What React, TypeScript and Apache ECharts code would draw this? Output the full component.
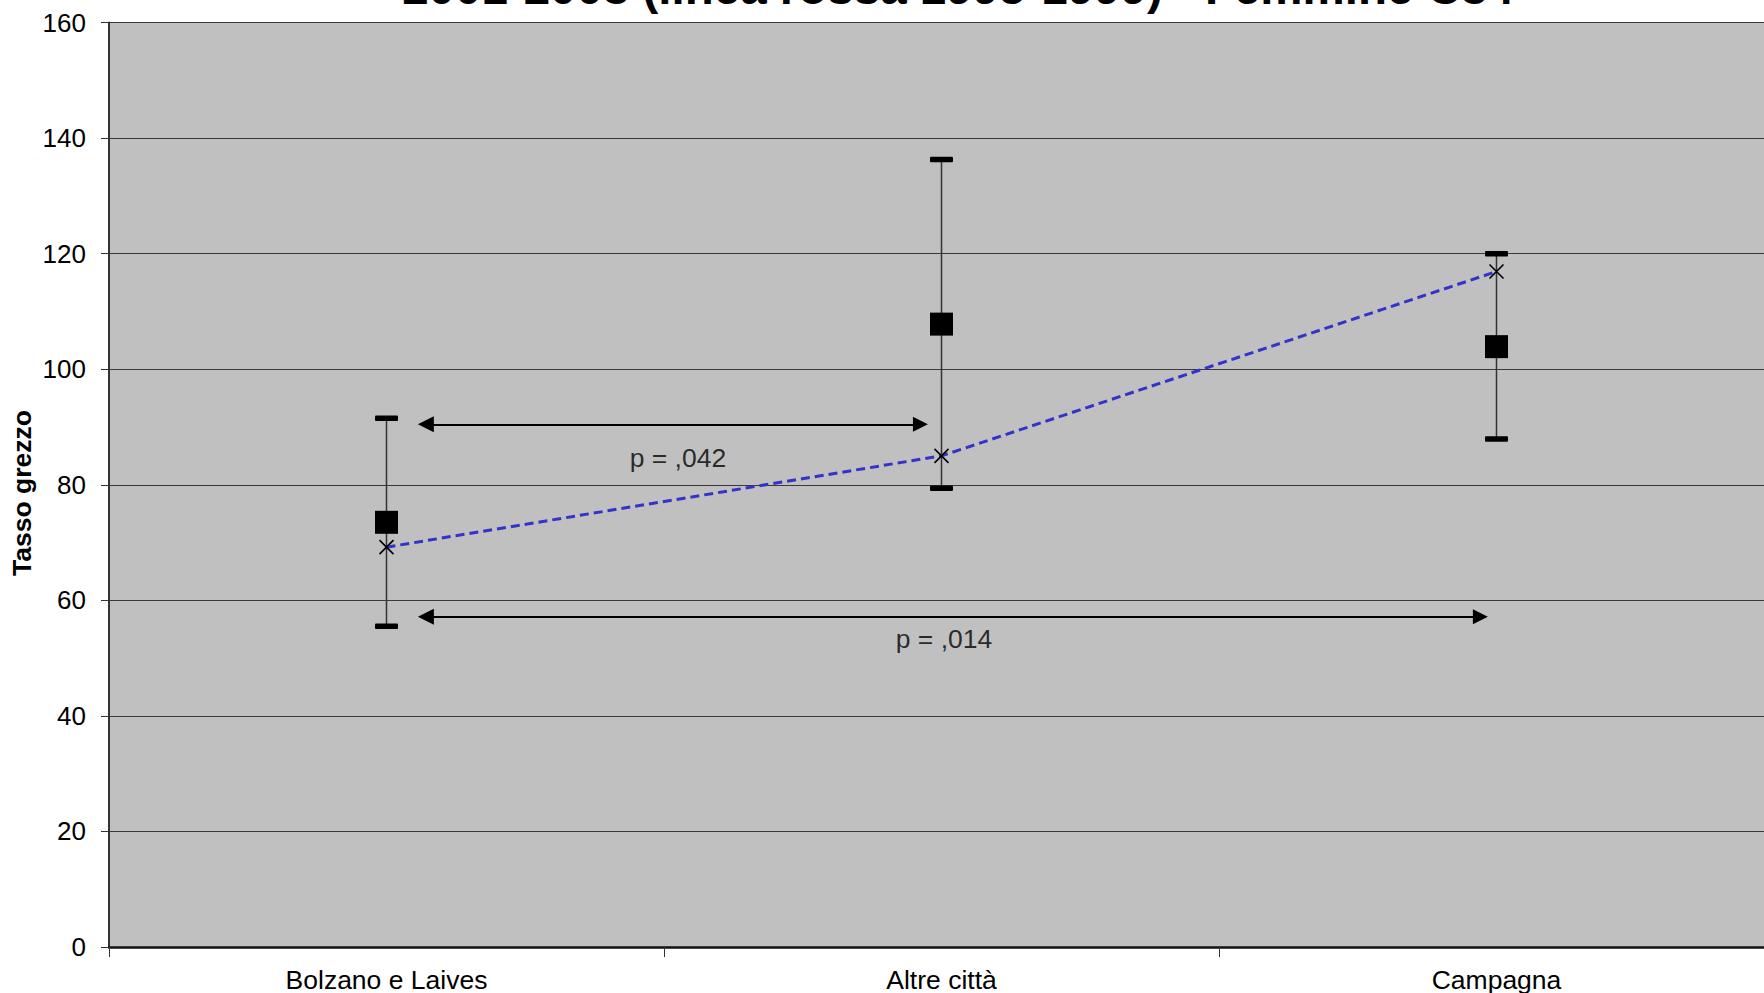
import React, { useEffect, useRef } from "react";
import * as echarts from "echarts";

const titleText = "2001-2003 (linea rossa 1995-1999) - Femmine C34";
const yAxisName = "Tasso grezzo";
const categories = ["Bolzano e Laives", "Altre città", "Campagna"];
const rateValues = [73.5, 107.8, 103.9];
const ciLow = [55.5, 79.4, 87.9];
const ciHigh = [91.5, 136.3, 120.0];
const refValues = [69.2, 85.0, 116.9];
const yTicks = { min: 0, max: 160, interval: 20 };
// comparison arrows: [xFrom, xTo, y] in category-index units
const arrowA = [0.071, 0.962, 90.46];
const arrowB = [0.071, 1.971, 57.16];
const pLabels = ["p = ,042", "p = ,014"];
const pLabelPos = [
  [0.525, 84.65],
  [1.0045, 53.3],
];

export default function App() {
  const ref = useRef<HTMLDivElement>(null);
  useEffect(() => {
    if (!ref.current) return;
    const chart = echarts.init(ref.current, null, { renderer: "svg" });
    const font = "Arial, 'Liberation Sans', sans-serif";
    chart.setOption({
      animation: false,
      backgroundColor: "#ffffff",
      textStyle: { fontFamily: font },
      graphic: [
        {
          type: "text",
          x: 958,
          y: -37,
          style: {
            text: titleText,
            font: `bold 47.5px ${font}`,
            fill: "#000",
            align: "center",
            verticalAlign: "top",
          },
        },
        {
          type: "text",
          x: 22,
          y: 493,
          rotation: Math.PI / 2,
          style: {
            text: yAxisName,
            font: `bold 26.5px ${font}`,
            fill: "#000",
            align: "center",
            verticalAlign: "middle",
          },
        },
      ],
      grid: {
        left: 109,
        top: 22.5,
        width: 1665,
        height: 924.5,
        show: true,
        backgroundColor: "#c0c0c0",
        borderWidth: 0,
      },
      xAxis: [
        {
          type: "category",
          data: categories,
          boundaryGap: true,
          axisLine: { lineStyle: { color: "#111", width: 2.5 } },
          axisTick: { show: true, length: 10, lineStyle: { color: "#333", width: 1 } },
          axisLabel: { fontSize: 26.5, color: "#000", margin: 19, fontFamily: font },
          splitLine: { show: false },
        },
        {
          type: "value",
          min: -0.5,
          max: 2.5,
          show: false,
          splitLine: { show: false },
        },
      ],
      yAxis: {
        type: "value",
        min: yTicks.min,
        max: yTicks.max,
        interval: yTicks.interval,
        axisLine: { show: true, onZero: false, lineStyle: { color: "#333", width: 2 } },
        axisTick: { show: true, length: 8, lineStyle: { color: "#333", width: 1 } },
        axisLabel: { fontSize: 26, color: "#000", margin: 23, fontFamily: font },
        splitLine: { show: true, lineStyle: { color: "#3a3a3a", width: 1 } },
      },
      series: [
        {
          type: "custom",
          xAxisIndex: 0,
          data: categories.map((_, i) => [i, ciLow[i], ciHigh[i]]),
          renderItem: (params: any, api: any) => {
            const lo = api.coord([api.value(0), api.value(1)]);
            const hi = api.coord([api.value(0), api.value(2)]);
            const cw = 23;
            const ch = 5.5;
            return {
              type: "group",
              children: [
                {
                  type: "line",
                  shape: { x1: hi[0], y1: hi[1], x2: lo[0], y2: lo[1] },
                  style: { stroke: "#333", lineWidth: 1.5 },
                },
                {
                  type: "rect",
                  shape: { x: hi[0] - cw / 2, y: hi[1] - ch / 2, width: cw, height: ch, r: 1 },
                  style: { fill: "#000" },
                },
                {
                  type: "rect",
                  shape: { x: lo[0] - cw / 2, y: lo[1] - ch / 2, width: cw, height: ch, r: 1 },
                  style: { fill: "#000" },
                },
              ],
            };
          },
          z: 2,
        },
        {
          type: "scatter",
          xAxisIndex: 0,
          data: rateValues,
          symbol: "rect",
          symbolSize: 23,
          itemStyle: { color: "#000", opacity: 1 },
          z: 3,
        },
        {
          type: "line",
          xAxisIndex: 0,
          data: refValues,
          symbol: "path://M0,0L10,10M10,0L0,10",
          symbolSize: 14,
          showSymbol: true,
          itemStyle: { color: "none", borderColor: "#000", borderWidth: 1.6, opacity: 1 },
          lineStyle: { color: "#3333cc", width: 3, type: [9, 5] },
          z: 4,
        },
        {
          type: "lines",
          coordinateSystem: "cartesian2d",
          xAxisIndex: 1,
          symbol: ["triangle", "triangle"],
          symbolSize: [16, 15],
          lineStyle: { color: "#000", width: 2, opacity: 1 },
          itemStyle: { color: "#000" },
          data: [
            { coords: [[arrowA[0], arrowA[2]], [arrowA[1], arrowA[2]]] },
            { coords: [[arrowB[0], arrowB[2]], [arrowB[1], arrowB[2]]] },
          ],
          z: 5,
        },
        {
          type: "scatter",
          xAxisIndex: 1,
          symbolSize: 0,
          data: pLabels.map((t, i) => ({ value: pLabelPos[i], name: t })),
          label: {
            show: true,
            position: "inside",
            formatter: (p: any) => p.name,
            fontSize: 26.5,
            color: "#000",
            fontFamily: font,
          },
          z: 6,
        },
      ],
    });
    return () => chart.dispose();
  }, []);
  return (
    <div
      ref={ref}
      style={{ position: "fixed", left: 0, top: 0, width: 1790, height: 993 }}
    />
  );
}
